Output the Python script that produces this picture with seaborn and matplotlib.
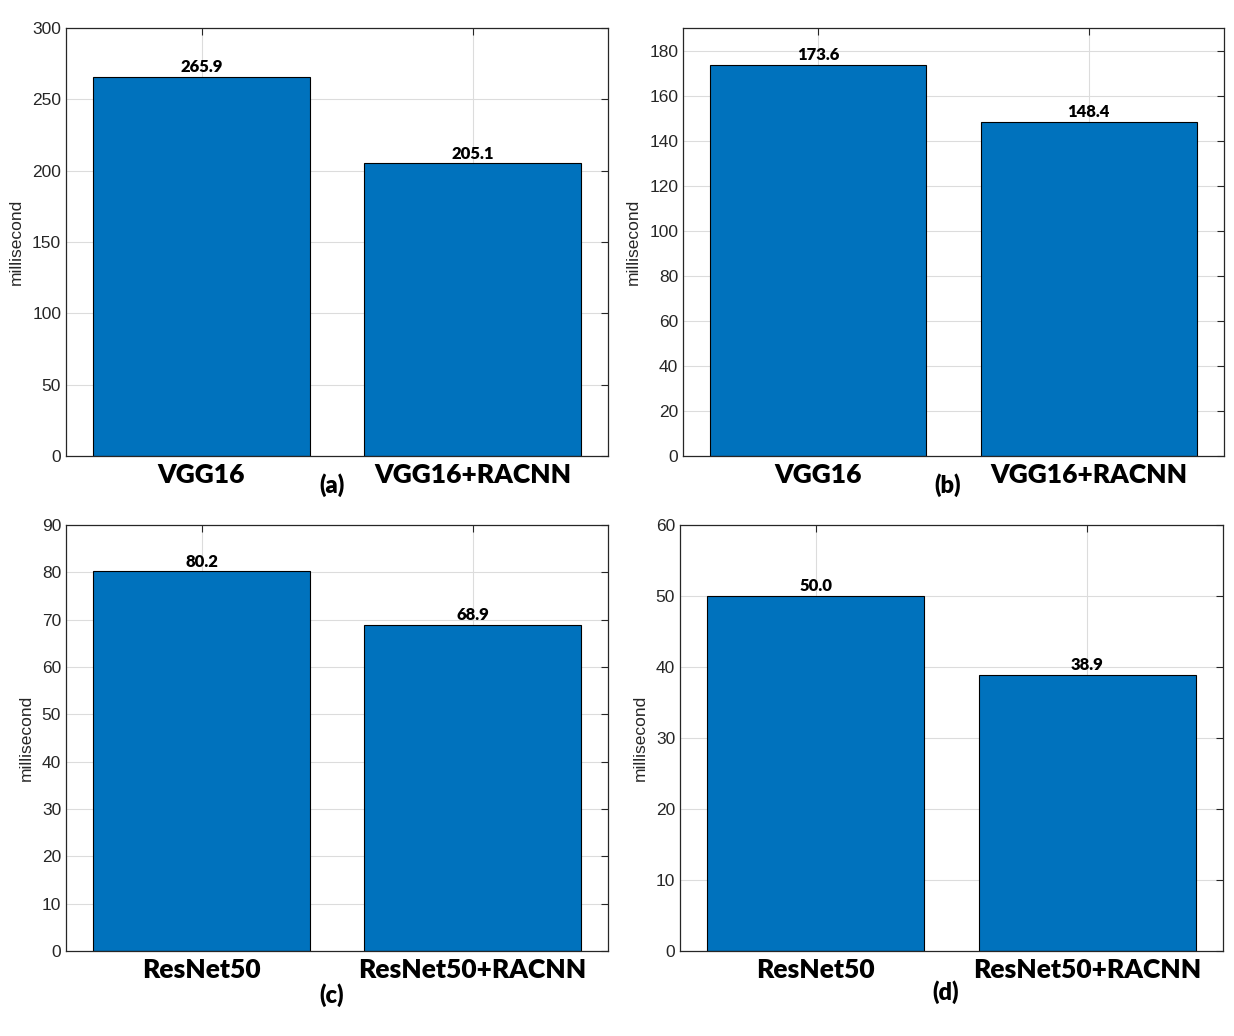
import pandas as pd
import numpy as np
import seaborn as sns
import matplotlib.pyplot as plt

#data for the four panels
vgg_models = ['VGG16', 'VGG16+RACNN']
resnet_models = ['ResNet50', 'ResNet50+RACNN']
time_a = [265.9, 205.1]
time_b = [173.6, 148.4]
time_c = [80.2, 68.9]
time_d = [50.0, 38.9]
panel_names = ['(a)', '(b)', '(c)', '(d)']

sns.set_style('white')
plt.rcParams['font.family'] = ['Liberation Sans', 'DejaVu Sans']
plt.rcParams['text.color'] = 'black'

W, H = 1234, 1036
fig = plt.figure(figsize=(W / 100, H / 100), dpi=100)

#axes boxes in pixels: left, top, right, bottom
boxes = [(66, 28, 608, 456), (683, 28, 1224, 456),
         (66, 525, 608, 951), (680, 525, 1223, 951)]
panels = [(vgg_models, time_a, 300, 50, 300),
          (vgg_models, time_b, 190, 20, 180),
          (resnet_models, time_c, 90, 10, 90),
          (resnet_models, time_d, 60, 10, 60)]
label_off = [0.068, 0.068, 0.103, 0.096]

for i, (box, panel) in enumerate(zip(boxes, panels)):
    l, t, r, b = box
    ax = fig.add_axes([l / W, 1 - b / H, (r - l) / W, (b - t) / H])
    models, vals, top, step, tick_top = panel
    df = pd.DataFrame({'model': models, 'ms': vals})
    sns.barplot(data=df, x='model', y='ms', color='#0072BD', saturation=1,
                width=0.8, edgecolor='black', linewidth=0.8, ax=ax, zorder=2)
    ax.set_xlim(-0.5, 1.5)
    ax.set_ylim(0, top)
    ax.set_yticks(np.arange(0, tick_top + 1, step))
    ax.grid(True, color='#dcdcdc', linewidth=0.8, zorder=0)
    ax.set_axisbelow(True)
    ax.tick_params(direction='in', top=True, right=True, length=5,
                   width=0.8, colors='#262626', labelsize=12.5)
    ax.tick_params(axis='x', pad=5)
    for lab in ax.get_xticklabels():
        lab.set_fontfamily('Lato')
        lab.set_fontweight('heavy')
        lab.set_fontsize(19)
        lab.set_color('black')
    ax.set_xlabel('')
    ax.set_ylabel('millisecond', fontsize=12.5, color='#262626', labelpad=6)
    for s in ax.spines.values():
        s.set_color('#262626')
        s.set_linewidth(0.9)
    for j, v in enumerate(vals):
        ax.text(j, v + top * 0.004, f'{v:.1f}', ha='center', va='bottom',
                fontsize=12, fontweight='heavy', family='Lato', color='black')
    ax.text(0.49, -label_off[i], panel_names[i], transform=ax.transAxes,
            ha='center', va='center', fontsize=17, fontweight='heavy',
            family='Lato', color='black')

plt.savefig('out.png', dpi=100)
